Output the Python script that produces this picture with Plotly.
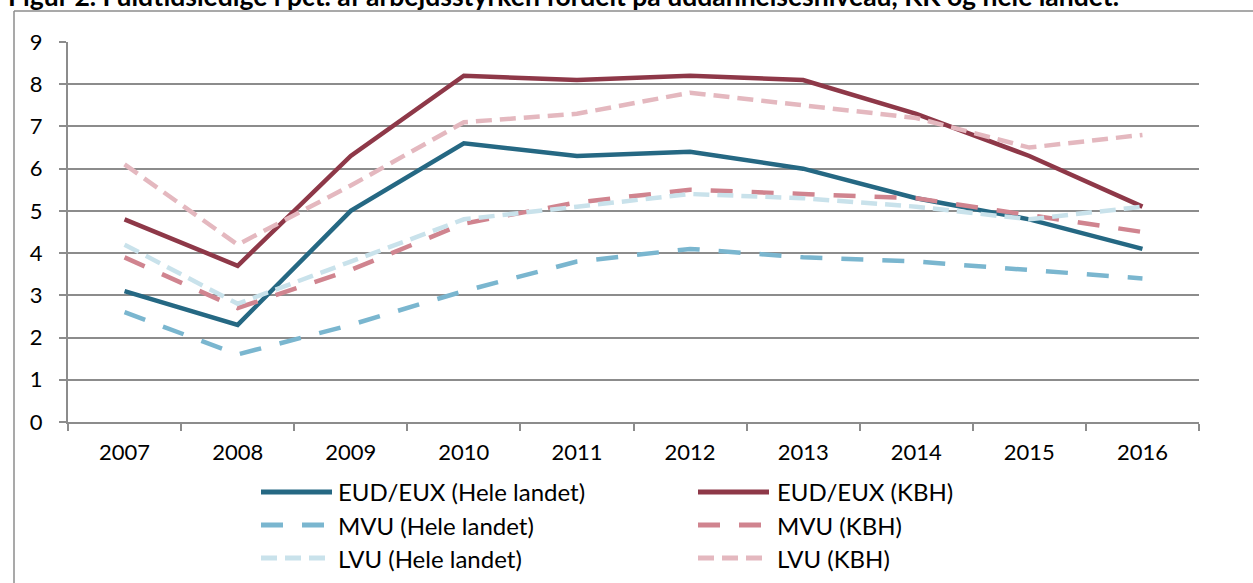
import plotly.graph_objects as go

years = ["2007", "2008", "2009", "2010", "2011", "2012", "2013", "2014", "2015", "2016"]
y_ticks = [0, 1, 2, 3, 4, 5, 6, 7, 8, 9]

series_names = [
    "EUD/EUX (Hele landet)", "EUD/EUX (KBH)",
    "MVU (Hele landet)", "MVU (KBH)",
    "LVU (Hele landet)", "LVU (KBH)",
]
eud_hele = [3.1, 2.3, 5.0, 6.6, 6.3, 6.4, 6.0, 5.3, 4.8, 4.1]
eud_kbh = [4.8, 3.7, 6.3, 8.2, 8.1, 8.2, 8.1, 7.3, 6.3, 5.1]
mvu_hele = [2.6, 1.6, 2.3, 3.1, 3.8, 4.1, 3.9, 3.8, 3.6, 3.4]
mvu_kbh = [3.9, 2.7, 3.6, 4.7, 5.2, 5.5, 5.4, 5.3, 4.9, 4.5]
lvu_hele = [4.2, 2.8, 3.8, 4.8, 5.1, 5.4, 5.3, 5.1, 4.8, 5.1]
lvu_kbh = [6.1, 4.2, 5.6, 7.1, 7.3, 7.8, 7.5, 7.2, 6.5, 6.8]
series_values = [eud_hele, eud_kbh, mvu_hele, mvu_kbh, lvu_hele, lvu_kbh]

title_text = "Figur 2. Fuldtidsledige i pct. af arbejdsstyrken fordelt på uddannelsesniveau, KK og hele landet."

colors = ["#256883", "#8E3848", "#7AB6CF", "#D0848F", "#C9E2EB", "#E4B8BF"]
dashes = ["solid", "solid", "22px,19px", "22px,19px", "16px,8px", "16px,8px"]

W, H = 1253, 583
L, R, T, B = 68, 54, 42, 161
PW = W - L - R
PH = H - T - B

def px(x):
    return (x - L) / PW

def py(y):
    return (H - B - y) / PH

FONT = "Lato"
GRID = "#8C8C8C"

fig = go.Figure()
for name, vals, c, d in zip(series_names, series_values, colors, dashes):
    fig.add_trace(go.Scatter(
        x=years, y=vals, mode="lines", name=name,
        line=dict(color=c, width=4.5, dash=d),
        showlegend=False, hoverinfo="skip",
    ))

shapes = []
annotations = []
# chart border (left and top edges visible)
shapes.append(dict(type="line", xref="paper", yref="paper",
                   x0=px(14), x1=px(W + 5), y0=py(11), y1=py(11),
                   line=dict(color=GRID, width=1.5)))
shapes.append(dict(type="line", xref="paper", yref="paper",
                   x0=px(14), x1=px(14), y0=py(11), y1=py(H + 5),
                   line=dict(color=GRID, width=1.5)))

# manual legend
col_sym = [(261, 332), (698, 769)]
col_txt = [336, 775]
row_y = [492, 525, 558]
for i, (name, c, d) in enumerate(zip(series_names, colors, dashes)):
    r, cl = i // 2, i % 2
    x0, x1 = col_sym[cl]
    if d != "solid":
        x1 = x0 + 64
    yy = py(row_y[r])
    shapes.append(dict(type="line", xref="paper", yref="paper",
                       x0=px(x0), x1=px(x1), y0=yy, y1=yy,
                       line=dict(color=c, width=5, dash=d)))
    annotations.append(dict(text=name, xref="paper", yref="paper",
                            x=px(col_txt[cl]), y=yy, xanchor="left", yanchor="middle",
                            showarrow=False, font=dict(family=FONT, size=24, color="#000000")))

annotations.append(dict(text="<b>" + title_text + "</b>", xref="paper", yref="paper",
                        x=px(6), y=py(-4), xanchor="left", yanchor="middle",
                        showarrow=False, font=dict(family=FONT, size=26.5, color="#000000")))

fig.update_layout(
    width=W, height=H,
    margin=dict(l=L, r=R, t=T, b=B, autoexpand=False),
    paper_bgcolor="white", plot_bgcolor="white",
    font=dict(family=FONT, size=22, color="#000000"),
    shapes=shapes, annotations=annotations,
    showlegend=False,
)
fig.update_xaxes(
    type="category", range=[-0.5, 9.5], automargin=False,
    showline=True, linecolor=GRID, linewidth=2,
    ticks="outside", ticklen=7, tickwidth=2, tickcolor=GRID,
    tickson="boundaries", showgrid=False,
    ticklabelstandoff=10,
)
fig.update_yaxes(
    range=[0, 9], tickvals=y_ticks, automargin=False,
    showline=True, linecolor=GRID, linewidth=2,
    ticks="outside", ticklen=7, tickwidth=2, tickcolor=GRID,
    showgrid=True, gridcolor=GRID, gridwidth=2, zeroline=False,
    ticklabelstandoff=12,
)

fig.write_html(
    "out.html",
    config={"displayModeBar": False},
    post_script="document.body.style.margin='0';document.body.style.padding='0';document.body.style.overflow='hidden';",
)
